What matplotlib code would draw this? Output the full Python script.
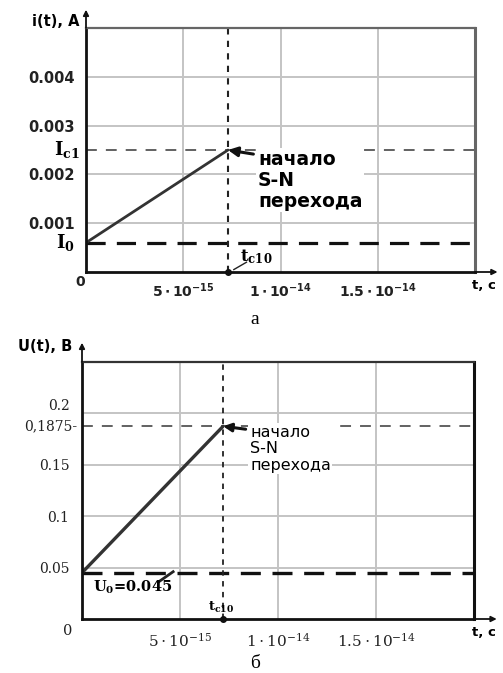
import matplotlib
matplotlib.use("Agg")
import matplotlib.pyplot as plt

plt.rcParams['mathtext.default'] = 'regular'

# ---- data (top: current) ----
t_i = [0.0, 7.3e-15]
i_vals = [0.0006, 0.0025]
I0 = 0.0006
Ic1 = 0.0025
i_yticks = [0.001, 0.002, 0.003, 0.004]
i_yticklabels = ['0.001', '0.002', '0.003', '0.004']

# ---- data (bottom: voltage) ----
t_u = [0.0, 7.2e-15]
u_vals = [0.045, 0.1875]
U0 = 0.045
U1 = 0.1875
u_yticks = [0.05, 0.1, 0.15, 0.2]
u_yticklabels = ['0.05', '0.1', '0.15', '0.2']

x_ticks = [5e-15, 1e-14, 1.5e-14]
x_ticklabels = [r'$5\cdot10^{-15}$', r'$1\cdot10^{-14}$', r'$1.5\cdot10^{-14}$']

W, H = 503, 673
fig = plt.figure(figsize=(W / 100, H / 100), dpi=100)

def frac(l, r, t, b):
    return [l / W, 1 - b / H, (r - l) / W, (b - t) / H]

def fx(px):
    return px / W

def fy(py):
    return 1 - py / H

GRID = '#c4c4c4'
SANS = 'DejaVu Sans'
SERIF = 'DejaVu Serif'

def style_axes(ax, top_color, right_color):
    for s in ['left', 'bottom']:
        ax.spines[s].set_color('#111111')
        ax.spines[s].set_linewidth(2.0)
    ax.spines['right'].set_color(right_color)
    ax.spines['right'].set_linewidth(2.2)
    ax.spines['top'].set_color(top_color)
    ax.spines['top'].set_linewidth(1.6)
    ax.tick_params(length=0)
    ax.grid(True, color=GRID, linewidth=1.4)
    ax.set_axisbelow(True)
    # axis arrows
    ax.annotate('', xy=(0, 1.075), xytext=(0, 1.0), xycoords='axes fraction',
                arrowprops=dict(arrowstyle='-|>', color='#111111', lw=1.3,
                                mutation_scale=8, shrinkA=0, shrinkB=0),
                annotation_clip=False)
    ax.annotate('', xy=(1.058, 0), xytext=(1.0, 0), xycoords='axes fraction',
                arrowprops=dict(arrowstyle='-|>', color='#111111', lw=1.3,
                                mutation_scale=8, shrinkA=0, shrinkB=0),
                annotation_clip=False)

# ================= TOP PANEL =================
ax1 = fig.add_axes(frac(86, 475, 28, 272))
ax1.set_xlim(0, 2e-14)
ax1.set_ylim(0, 0.005)
style_axes(ax1, '#666666', '#666666')
ax1.set_xticks(x_ticks)
ax1.set_xticklabels(x_ticklabels, fontsize=10, family=SANS, fontweight='bold',
                    color='#222222')
ax1.set_yticks(i_yticks)
ax1.set_yticklabels(i_yticklabels, fontsize=10.5, family=SANS, fontweight='bold',
                    color='#222222')
ax1.tick_params(axis='x', pad=7)
ax1.tick_params(axis='y', pad=8)

ax1.axhline(Ic1, color='#555555', lw=1.3, dashes=(6, 5))
ax1.axhline(I0, color='#111111', lw=2.3, dashes=(6, 3.5))
ax1.axvline(t_i[1], color='#222222', lw=1.5, dashes=(3, 3))
ax1.plot(t_i, i_vals, color='#333333', lw=2.0, solid_capstyle='round')
ax1.plot([t_i[1]], [0], 'o', color='#111111', ms=4, clip_on=False)

fig.text(fx(80), fy(282), '0', ha='center', va='center',
         fontsize=10, family=SANS, fontweight='bold', color='#222222')
ax1.text(-0.015, Ic1, r'$I_{c1}$', transform=ax1.get_yaxis_transform(),
         ha='right', va='center', fontsize=13, family=SERIF, fontweight='bold')
ax1.text(-0.03, I0, r'$I_0$', transform=ax1.get_yaxis_transform(),
         ha='right', va='center', fontsize=13, family=SERIF, fontweight='bold')
fig.text(fx(240), fy(257), r'$t_{c10}$', ha='left', va='center',
         fontsize=12, family=SERIF, fontweight='bold')
ax1.plot([7.6e-15, 8.25e-15], [0.00005, 0.0002], color='#222222', lw=1.0)
fig.text(fx(496), fy(285), 't, c', ha='right', va='center',
         fontsize=9.5, family=SANS, fontweight='bold')
fig.text(fx(80), fy(22), 'i(t), A', ha='right', va='center',
         fontsize=10.5, family=SANS, fontweight='bold')
ax1.annotate('начало\nS-N\nперехода', xy=(t_i[1], Ic1),
             xytext=(fx(258), fy(150)), textcoords='figure fraction',
             ha='left', va='top', fontsize=13.5, family=SANS,
             fontweight='bold', linespacing=1.12,
             bbox=dict(boxstyle='square,pad=0.1', fc='white', ec='none'),
             arrowprops=dict(arrowstyle='-|>', color='#111111', lw=2.2,
                             mutation_scale=14, shrinkA=2, shrinkB=0,
                             relpos=(0.0, 0.92)))
fig.text(fx(255), fy(320), 'а', ha='center', va='center', fontsize=14,
         family='Liberation Serif')

# ================= BOTTOM PANEL =================
ax2 = fig.add_axes(frac(82, 474, 362, 619))
ax2.set_xlim(0, 2e-14)
ax2.set_ylim(0, 0.25)
style_axes(ax2, '#333333', '#111111')
ax2.set_xticks(x_ticks)
ax2.set_xticklabels(x_ticklabels, fontsize=11, family=SERIF, color='#222222')
ax2.set_yticks(u_yticks)
ax2.set_yticklabels(u_yticklabels, fontsize=10, family=SERIF, color='#222222')
ax2.tick_params(axis='x', pad=9)
ax2.tick_params(axis='y', pad=9)
for lbl in ax2.get_yticklabels():
    if lbl.get_text() == '0.2':
        lbl.set_va('bottom')

ax2.axhline(U1, color='#555555', lw=1.3, dashes=(6, 5))
ax2.axhline(U0, color='#111111', lw=2.4, dashes=(6, 3.5))
ax2.axvline(t_u[1], color='#222222', lw=1.3, dashes=(3, 3))
ax2.plot(t_u, u_vals, color='#333333', lw=2.4, solid_capstyle='round')
ax2.plot([t_u[1]], [0], 'o', color='#111111', ms=4, clip_on=False)

ax2.text(-0.012, U1, '0,1875-', transform=ax2.get_yaxis_transform(),
         ha='right', va='center', fontsize=10, family=SERIF,
         color='#222222')
ax2.text(-0.025, -0.02, '0', transform=ax2.transAxes, ha='right', va='top',
         fontsize=10.5, family=SERIF, color='#222222')
ax2.text(0.028, 0.125, r'$U_0$=0.045', transform=ax2.transAxes,
         ha='left', va='center', fontsize=10.5, family=SERIF,
         fontweight='bold')
ax2.plot([3.9e-15, 4.65e-15], [0.036, 0.046], color='#222222', lw=2.0)
ax2.text(0.322, 0.045, r'$t_{c10}$', transform=ax2.transAxes,
         ha='left', va='center', fontsize=9.5, family=SERIF,
         fontweight='bold')
fig.text(fx(496), fy(633), 't, c', ha='right', va='center',
         fontsize=9.5, family=SANS, fontweight='bold')
fig.text(fx(72), fy(347), 'U(t), B', ha='right', va='center',
         fontsize=10.5, family=SANS, fontweight='bold')
ax2.annotate('начало\nS-N\nперехода', xy=(t_u[1], U1),
             xytext=(fx(250), fy(425)), textcoords='figure fraction',
             ha='left', va='top', fontsize=11.5, family=SANS,
             linespacing=1.12,
             bbox=dict(boxstyle='square,pad=0.1', fc='white', ec='none'),
             arrowprops=dict(arrowstyle='-|>', color='#111111', lw=2.2,
                             mutation_scale=12, shrinkA=2, shrinkB=0,
                             relpos=(0.0, 0.9)))
fig.text(fx(255), fy(663), 'б', ha='center', va='center', fontsize=14,
         family='Liberation Serif')

fig.savefig('out.png', dpi=100)
